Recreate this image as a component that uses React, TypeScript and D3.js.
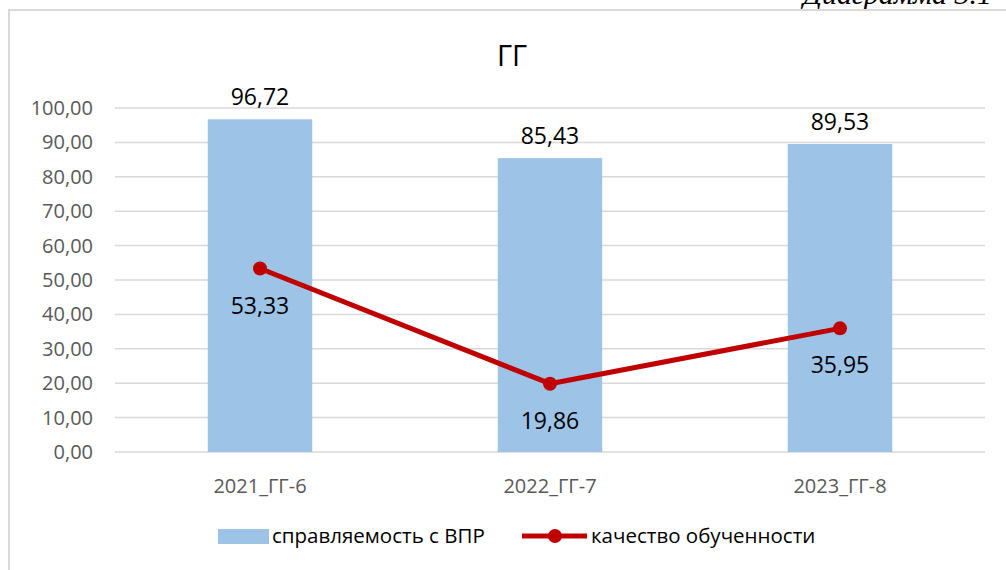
import React from "react";
import * as d3 from "d3";

const categories = ["2021_ГГ-6", "2022_ГГ-7", "2023_ГГ-8"];
const barValues = [96.72, 85.43, 89.53];
const lineValues = [53.33, 19.86, 35.95];
const yTicks = [0, 10, 20, 30, 40, 50, 60, 70, 80, 90, 100];
const title = "ГГ";
const barName = "справляемость с ВПР";
const lineName = "качество обученности";
const caption = "Диаграмма 3.1";

const fmt = (v: number) => v.toFixed(2).replace(".", ",");

export default function App() {
  const W = 1006, H = 570;
  const left = 115, right = 985, top = 108, bottom = 452;
  const x = d3.scaleBand<string>().domain(categories).range([left, right]).paddingInner(0.64).paddingOuter(0.32);
  const y = d3.scaleLinear().domain([0, 100]).range([bottom, top]);
  const font = "'Open Sans', 'Liberation Sans', sans-serif";
  const lineGen = d3.line<number>()
    .x((_, i) => (x(categories[i]) as number) + x.bandwidth() / 2)
    .y((d) => y(d));
  return (
    <svg width={W} height={H} style={{ position: "absolute", left: 0, top: 0 }}>
      <rect x={0} y={0} width={W} height={H} fill="#fff" />
      <text x={803} y={4} fontFamily="'Liberation Serif', serif" fontStyle="italic" fontSize={30} fill="#000">{caption}</text>
      <line x1={8} x2={W} y1={10} y2={10} stroke="#d9d9d9" strokeWidth={2} />
      <line x1={9} x2={9} y1={10} y2={H} stroke="#d9d9d9" strokeWidth={2} />
      <text x={512} y={66} textAnchor="middle" fontFamily={font} fontSize={29} fill="#000">{title}</text>
      {yTicks.map((t) => (
        <g key={t}>
          <line x1={left} x2={right} y1={y(t)} y2={y(t)} stroke="#d9d9d9" strokeWidth={1.5} />
          <text x={93} y={y(t)} dy="0.35em" textAnchor="end" fontFamily={font} fontSize={20} fill="#595959">{fmt(t)}</text>
        </g>
      ))}
      {categories.map((c, i) => (
        <g key={c}>
          <rect x={x(c)} y={y(barValues[i])} width={x.bandwidth()} height={bottom - y(barValues[i])} fill="#9dc3e6" />
          <text x={(x(c) as number) + x.bandwidth() / 2} y={y(barValues[i]) - 14} textAnchor="middle" fontFamily={font} fontSize={23} fill="#000">{fmt(barValues[i])}</text>
          <text x={(x(c) as number) + x.bandwidth() / 2} y={493} textAnchor="middle" fontFamily={font} fontSize={20} fill="#595959">{c}</text>
        </g>
      ))}
      <path d={lineGen(lineValues) || ""} fill="none" stroke="#c00000" strokeWidth={5} strokeLinejoin="round" />
      {lineValues.map((v, i) => {
        const cx = (x(categories[i]) as number) + x.bandwidth() / 2;
        return (
          <g key={i}>
            <circle cx={cx} cy={y(v)} r={7} fill="#c00000" />
            <text x={cx} y={y(v) + 45} textAnchor="middle" fontFamily={font} fontSize={23} fill="#000">{fmt(v)}</text>
          </g>
        );
      })}
      <rect x={218} y={529} width={51} height={15} fill="#9dc3e6" />
      <text x={272} y={543} fontFamily={font} fontSize={20.5} fill="#000">{barName}</text>
      <line x1={522} x2={587} y1={536} y2={536} stroke="#c00000" strokeWidth={5} />
      <circle cx={555} cy={536} r={7} fill="#c00000" />
      <text x={591} y={543} fontFamily={font} fontSize={20.5} fill="#000">{lineName}</text>
    </svg>
  );
}
